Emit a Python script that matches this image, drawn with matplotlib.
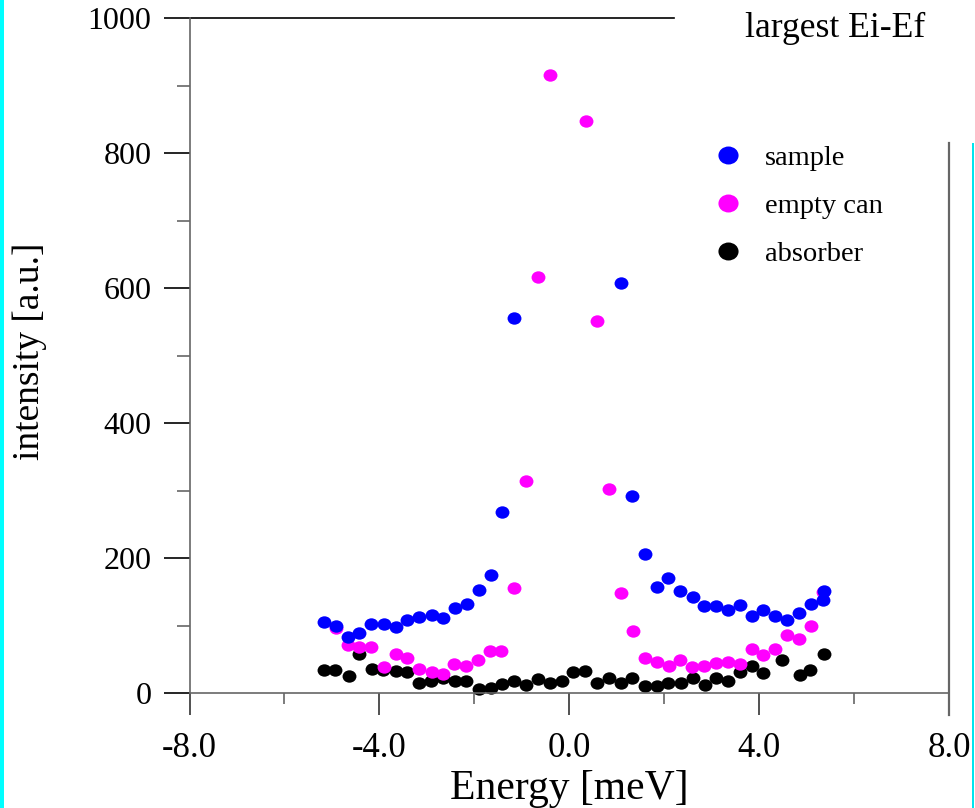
import numpy as np
import matplotlib
matplotlib.use('Agg')
import matplotlib.pyplot as plt
from matplotlib.path import Path
from matplotlib.lines import Line2D
from matplotlib.patches import Rectangle

plt.rcParams['font.family'] = ['Liberation Serif', 'DejaVu Serif']
plt.rcParams['axes.unicode_minus'] = False

# sample (blue)
sample_e = [-5.17, -4.92, -4.66, -4.42, -4.17, -3.91, -3.66, -3.42, -3.17, -2.90,
            -2.66, -2.41, -2.15, -1.91, -1.66, -1.41, -1.16, 1.09, 1.33, 1.59,
            1.84, 2.08, 2.34, 2.60, 2.84, 3.09, 3.34, 3.59, 3.84, 4.09,
            4.34, 4.59, 4.83, 5.09, 5.34, 5.37]
sample_i = [105, 100, 83, 90, 103, 103, 98, 109, 113, 116,
            112, 126, 132, 153, 176, 268, 556, 608, 293, 206,
            158, 171, 152, 142, 129, 129, 123, 131, 115, 123,
            115, 109, 119, 132, 138, 152]

# empty can (magenta)
empty_e = [-4.91, -4.66, -4.42, -4.17, -3.91, -3.66, -3.42, -3.17, -2.90, -2.67,
           -2.43, -2.17, -1.93, -1.68, -1.44, -1.16, -0.92, -0.66, -0.41, 0.35,
           0.59, 0.83, 1.09, 1.34, 1.59, 1.84, 2.09, 2.34, 2.59, 2.84,
           3.10, 3.34, 3.59, 3.84, 4.09, 4.34, 4.58, 4.84, 5.10, 5.34]
empty_i = [97, 72, 69, 68, 39, 59, 52, 36, 32, 28,
           43, 41, 49, 62, 63, 156, 315, 616, 916, 848,
           551, 302, 149, 92, 53, 46, 41, 50, 39, 41,
           45, 47, 43, 66, 57, 66, 86, 80, 100, 150]

# absorber (black)
absorber_e = [-5.17, -4.93, -4.65, -4.42, -4.16, -3.92, -3.66, -3.41, -3.17, -2.91,
              -2.66, -2.41, -2.17, -1.91, -1.66, -1.41, -1.16, -0.91, -0.66, -0.41,
              -0.16, 0.08, 0.34, 0.59, 0.84, 1.09, 1.33, 1.60, 1.84, 2.08,
              2.35, 2.61, 2.85, 3.08, 3.34, 3.59, 3.84, 4.08, 4.48, 4.85,
              5.07, 5.36]
absorber_i = [35, 35, 26, 59, 36, 35, 33, 31, 16, 18,
              22, 18, 18, 6, 8, 14, 18, 12, 21, 15,
              19, 32, 33, 15, 22, 15, 23, 11, 11, 15,
              16, 22, 12, 23, 18, 32, 41, 30, 50, 27,
              35, 59]

x_ticks = [-8.0, -4.0, 0.0, 4.0, 8.0]
x_minor = [-6.0, -2.0, 2.0, 6.0]
y_ticks = [0, 200, 400, 600, 800, 1000]
y_minor = [100, 300, 500, 700, 900]

# slightly wide oval marker, like the original plot
circ = Path.unit_circle()
oval = Path(circ.vertices * [1.12, 1.0], circ.codes)

fig = plt.figure(figsize=(9.75, 8.08), dpi=100)
ax = fig.add_axes([0.1944, 0.1419, 0.779, 0.8355])

ms = 10
ax.plot(absorber_e, absorber_i, ls='none', marker=oval, ms=ms, color='black', mew=0, clip_on=False)
ax.plot(empty_e, empty_i, ls='none', marker=oval, ms=ms, color='#ff00ff', mew=0, clip_on=False)
ax.plot(sample_e, sample_i, ls='none', marker=oval, ms=ms, color='#0000ff', mew=0, clip_on=False)

ax.set_xlim(-8, 8)
ax.set_ylim(0, 1000)
ax.set_xticks(x_ticks)
ax.set_xticklabels(['%.1f' % v for v in x_ticks])
ax.set_xticks(x_minor, minor=True)
ax.set_yticks(y_ticks)
ax.set_yticks(y_minor, minor=True)

spine_col = '#666666'
for s in ['top', 'right']:
    ax.spines[s].set_visible(False)
for s in ['left', 'bottom']:
    ax.spines[s].set_color(spine_col)
    ax.spines[s].set_linewidth(1.2)

ax.tick_params(axis='y', which='major', direction='out', length=18.5, width=1.2,
               color='black', labelsize=23, pad=9)
ax.tick_params(axis='y', which='minor', direction='out', length=9.5, width=1.2, color=spine_col)
ax.tick_params(axis='x', which='major', direction='out', length=16, width=1.2,
               color='#333333', labelsize=25, pad=12)
ax.tick_params(axis='x', which='minor', direction='out', length=8, width=1.2, color=spine_col)

# partial top line and shortened right border
ax.plot([0, 0.638], [1, 1], transform=ax.transAxes, color='black', lw=1.2, clip_on=False)
ax.plot([1, 1], [-0.032, 0.815], transform=ax.transAxes, color=spine_col, lw=1.6, clip_on=False)

fig.text(30 / 975, 1 - 351 / 808, 'intensity [a.u.]', rotation=90, fontsize=27,
         ha='center', va='center')
fig.text(569 / 975, 1 - 789 / 808, 'Energy [meV]', fontsize=30, ha='center', va='center')
fig.text(835 / 975, 1 - 28 / 808, 'largest Ei-Ef', fontsize=25.7, ha='center', va='center')

handles = [Line2D([], [], ls='none', marker=oval, ms=14.5, color=c, mew=0)
           for c in ['#0000ff', '#ff00ff', 'black']]
fig.legend(handles, ['sample', 'empty can', 'absorber'], loc='upper left',
           bbox_to_anchor=(714 / 975, 1 - 145 / 808), frameon=False, fontsize=20.5,
           handlelength=1.0, handletextpad=0.8, labelspacing=0.78,
           borderpad=0, borderaxespad=0)

# cyan frame remnants
fig.patches.append(Rectangle((0, 0), 4 / 975, 1, transform=fig.transFigure,
                             color='#00ffff', lw=0, zorder=10))
fig.patches.append(Rectangle((972 / 975, 0), 2 / 975, 1 - 143 / 808,
                             transform=fig.transFigure, color='#00e5ee', lw=0, zorder=10))

fig.savefig('out.png', dpi=100)
